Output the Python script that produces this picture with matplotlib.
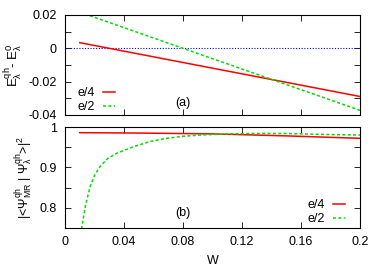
import numpy as np
import matplotlib
matplotlib.use("Agg")
import matplotlib.pyplot as plt

plt.rcParams['font.family'] = ['Liberation Sans', 'DejaVu Sans']
plt.rcParams['mathtext.fontset'] = 'custom'
plt.rcParams['mathtext.rm'] = 'Liberation Sans'
plt.rcParams['mathtext.it'] = 'Liberation Sans'

# panel (a): energy difference vs W
w_a = [0.01, 0.05, 0.1, 0.15, 0.2]
e4_a = [0.0034, -0.0034, -0.0119, -0.0204, -0.0289]
e2_a = [0.0217, 0.0093, -0.0062, -0.0217, -0.0372]
zero_line = [0.0, 0.0]
w_zero = [0.0, 0.2]

# panel (b): overlap vs W
w_b4 = [0.01, 0.05, 0.1, 0.15, 0.2]
e4_b = [0.986, 0.985, 0.983, 0.978, 0.972]
w_b2 = [0.01, 0.0113, 0.014, 0.017, 0.020, 0.0237, 0.029, 0.035, 0.0463, 0.0576,
        0.069, 0.08, 0.0915, 0.11, 0.13, 0.15, 0.17, 0.2]
e2_b = [0.735, 0.75, 0.808, 0.852, 0.880, 0.902, 0.922, 0.935, 0.951, 0.964,
        0.972, 0.977, 0.980, 0.983, 0.984, 0.984, 0.982, 0.980]

fig = plt.figure(figsize=(3.82, 2.67), dpi=100)
W, H = 382, 267
ax1 = fig.add_axes([65 / W, 1 - 115 / H, 295 / W, 100 / H])
ax2 = fig.add_axes([65 / W, 1 - 228 / H, 295 / W, 101 / H])

for ax in (ax1, ax2):
    ax.tick_params(direction='in', top=True, right=True, length=4, width=0.6, labelsize=9)
    ax.tick_params(axis='x', pad=6)
    ax.tick_params(axis='y', pad=6)
    for s in ax.spines.values():
        s.set_linewidth(0.8)
    ax.set_xlim(0, 0.2)
    ax.set_xticks([0, 0.04, 0.08, 0.12, 0.16, 0.2])

ax1.plot(w_zero, zero_line, color='#0000ff', lw=0.8, ls=(0, (1, 1.5)))
ax1.plot(w_a, e4_a, color='#ff0000', lw=1.1, label='e/4')
ax1.plot(w_a, e2_a, color='#00dd00', lw=1.1, ls=(0, (2, 1.5)), label='e/2')
ax1.set_ylim(-0.04, 0.02)
ax1.set_yticks(np.arange(-0.04, 0.021, 0.01))
ax1.set_yticklabels(['-0.04', '', '-0.02', '', '0', '', '0.02'])
ax1.set_xticklabels([])
ax1.set_ylabel(r'E$^{\rm qh}_\lambda$- E$^0_\lambda$', fontsize=9.5, labelpad=3)
ax1.text(0.08, -0.0327, '(a)', fontsize=9, ha='center', va='center')
ax1.legend(loc='lower left', bbox_to_anchor=(0.044, 0.02), frameon=False, fontsize=9,
           markerfirst=False, handlelength=1.0, handletextpad=0.6, labelspacing=0.15,
           borderpad=0, borderaxespad=0)

ax2.plot(w_b4, e4_b, color='#ff0000', lw=1.1, label='e/4')
ax2.plot(w_b2, e2_b, color='#00dd00', lw=1.1, ls=(0, (2, 1.5)), label='e/2')
ax2.set_ylim(0.75, 1.0)
ax2.set_yticks([0.75, 0.8, 0.85, 0.9, 0.95, 1.0])
ax2.set_yticklabels(['', '0.8', '', '0.9', '', '1'])
ax2.set_xticklabels(['0', '0.04', '0.08', '0.12', '0.16', '0.2'])
ax2.set_ylabel(r'|<$\Psi^{\rm qh}_{\rm MR}$ | $\Psi^{\rm qh}_\lambda$>|$^2$', fontsize=9, labelpad=3)
ax2.set_xlabel('W', fontsize=9, labelpad=5)
ax2.text(0.08, 0.786, '(b)', fontsize=9, ha='center', va='center')
ax2.legend(loc='lower right', bbox_to_anchor=(0.95, 0.03), frameon=False, fontsize=9,
           markerfirst=False, handlelength=1.0, handletextpad=0.6, labelspacing=0.15,
           borderpad=0, borderaxespad=0)

fig.savefig('out.png', dpi=100)
